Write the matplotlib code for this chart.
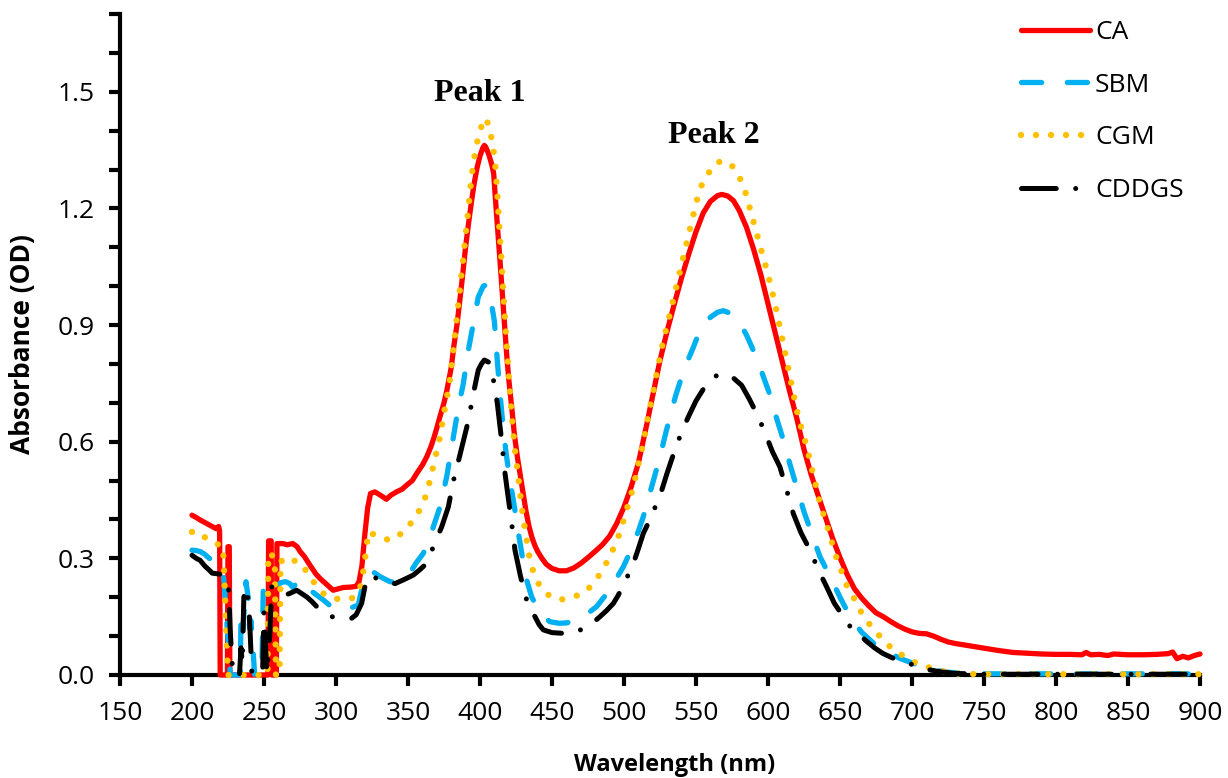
import numpy as np
import matplotlib
matplotlib.use("Agg")
import matplotlib.pyplot as plt
from matplotlib.ticker import MultipleLocator, FormatStrFormatter

# ---------------- data ----------------
CA_WL = [200, 203, 206, 209, 212, 215, 217, 218.5, 219.2, 219.6, 224.6, 225.0, 225.9, 226.3,
         252.8, 253.2, 255.0, 255.4, 258.6, 259.0, 263, 266, 270, 273,
         275, 278, 282, 286, 289, 292, 295, 298, 302, 305, 310, 314, 316, 318, 320, 322, 324, 327,
         331, 335, 338, 342, 346, 349, 353, 356, 360, 363, 366, 368, 370, 372, 375, 377, 380, 382,
         384, 386, 388, 390, 392, 394, 396, 398, 400, 402, 403, 404, 406, 408, 409.5, 411, 412.7,
         414, 416, 418.5, 420, 422, 424, 426, 428, 430, 432, 434, 436, 438, 440, 443, 446, 450, 455,
         460, 465, 470, 475, 480, 485, 490, 495, 500, 505, 510, 515, 520, 525, 530, 535, 540, 545,
         550, 555, 560, 565, 568, 572, 576, 580, 585, 590, 595, 600, 605, 610, 615, 620, 625, 630,
         635, 640, 645, 650, 655, 660, 665, 670, 675, 680, 685, 690, 695, 700, 705, 710, 715, 720,
         725, 730, 740, 750, 760, 770, 780, 790, 800, 810, 818, 821, 824, 830, 836, 840, 850, 860,
         870, 878, 881, 884, 888, 892, 896, 900]
CA_ABS = [0.411, 0.405, 0.398, 0.392, 0.386, 0.380, 0.376, 0.382, 0.370, 0.0, 0.0, 0.330, 0.330, 0.0,
          0.0, 0.345, 0.345, 0.0, 0.0, 0.338, 0.338, 0.335, 0.338, 0.330,
          0.318, 0.305, 0.282, 0.260, 0.248, 0.238, 0.228, 0.218, 0.222, 0.225, 0.226, 0.228, 0.240,
          0.280, 0.360, 0.430, 0.467, 0.471, 0.462, 0.452, 0.462, 0.471, 0.478, 0.488, 0.500, 0.518,
          0.540, 0.561, 0.588, 0.610, 0.635, 0.662, 0.700, 0.732, 0.790, 0.850, 0.900, 0.963, 1.030,
          1.100, 1.160, 1.215, 1.265, 1.305, 1.335, 1.356, 1.362, 1.358, 1.340, 1.315, 1.290, 1.210,
          1.126, 1.060, 0.955, 0.826, 0.760, 0.690, 0.615, 0.560, 0.513, 0.465, 0.420, 0.383, 0.355,
          0.334, 0.318, 0.300, 0.285, 0.274, 0.268, 0.268, 0.275, 0.287, 0.302, 0.318, 0.335, 0.357,
          0.390, 0.432, 0.484, 0.545, 0.630, 0.720, 0.809, 0.885, 0.955, 1.022, 1.083, 1.140, 1.188,
          1.218, 1.233, 1.236, 1.232, 1.220, 1.195, 1.152, 1.095, 1.030, 0.955, 0.880, 0.805, 0.730,
          0.660, 0.580, 0.515, 0.460, 0.405, 0.350, 0.302, 0.258, 0.222, 0.198, 0.178, 0.160, 0.150,
          0.138, 0.127, 0.118, 0.111, 0.107, 0.106, 0.100, 0.092, 0.085, 0.081, 0.075, 0.069, 0.063,
          0.058, 0.056, 0.054, 0.053, 0.053, 0.052, 0.058, 0.052, 0.053, 0.050, 0.054, 0.052, 0.052,
          0.053, 0.055, 0.059, 0.042, 0.048, 0.044, 0.050, 0.054]

SBM_WL = [200, 203, 206, 209, 212, 215, 218, 221, 222, 223, 224.5, 226, 226.5, 233.5, 234, 235,
          236.5, 237.5, 239, 240, 241, 242.5, 243.5, 248.5, 249.5, 251, 253, 256, 259, 262, 265,
          268, 270, 272.7, 275, 276.2, 280, 285, 291.2, 296, 300.5, 305, 310, 315.5, 317.8, 321.3,
          325.9, 330.6, 337.5, 342, 347, 352.6, 356, 360.7, 364, 367.6, 372.2, 376.9, 381.5, 385,
          388.4, 391.9, 394.9, 398.8, 402.3, 404, 406, 408, 410, 412, 414, 416, 418, 420, 422, 424,
          426, 429, 432.4, 435.9, 440.5, 444, 448.6, 455, 460.2, 467.1, 474, 481, 485, 490.3, 495,
          499.5, 503, 506.5, 510, 513.4, 517, 520.4, 525, 528.5, 531.9, 536, 540, 544, 548.2, 551.5,
          555.1, 560, 565, 569, 574, 579.4, 585, 589.8, 594.4, 598, 601.4, 606, 610.7, 615, 619.9,
          625, 630.3, 636, 643.1, 650, 657, 665, 673.2, 684.7, 692, 700.9, 707, 714.8, 725, 735,
          750, 800, 850, 900]
SBM_ABS = [0.321, 0.320, 0.317, 0.310, 0.300, 0.297, 0.290, 0.270, 0.250, 0.200, 0.120, 0.050, 0.0,
           0.0, 0.140, 0.100, 0.180, 0.240, 0.200, 0.120, 0.140, 0.060, 0.0, 0.0, 0.220, 0.235,
           0.225, 0.220, 0.230, 0.238, 0.240, 0.235, 0.225, 0.236, 0.245, 0.240, 0.225, 0.210, 0.193,
           0.178, 0.167, 0.168, 0.172, 0.180, 0.219, 0.257, 0.265, 0.253, 0.240, 0.238, 0.250, 0.270,
           0.290, 0.313, 0.345, 0.381, 0.432, 0.510, 0.612, 0.689, 0.749, 0.835, 0.895, 0.972, 1.000,
           1.003, 0.985, 0.955, 0.910, 0.810, 0.720, 0.640, 0.575, 0.520, 0.475, 0.430, 0.380, 0.313,
           0.244, 0.201, 0.167, 0.150, 0.137, 0.133, 0.134, 0.141, 0.156, 0.176, 0.195, 0.219, 0.250,
           0.278, 0.306, 0.338, 0.370, 0.407, 0.455, 0.501, 0.561, 0.615, 0.664, 0.720, 0.766, 0.806,
           0.843, 0.875, 0.900, 0.920, 0.933, 0.937, 0.930, 0.912, 0.875, 0.835, 0.792, 0.755, 0.720,
           0.660, 0.604, 0.545, 0.484, 0.420, 0.364, 0.305, 0.253, 0.200, 0.150, 0.110, 0.082, 0.056,
           0.042, 0.030, 0.020, 0.013, 0.007, 0.004, 0.003, 0.003, 0.003, 0.003]

CGM_WL = [200, 205, 208, 211, 214, 218, 221, 222, 223, 224, 225, 252.5, 253, 255, 257.5, 258.3, 260.8,
          261.5, 264, 268, 272.7, 277.3, 280, 283, 287.7, 291, 294.7, 298, 302.8, 307, 310.9, 314,
          316.7, 318.5, 320.1, 321.5, 322.5, 326, 330.6, 335, 338.7, 342, 346.8, 350, 353.7, 357,
          359.5, 363, 365.3, 367.6, 369.9, 372.2, 373.8, 375.7, 377.5, 379.2, 380.3, 381.5, 384, 386,
          388, 390, 392, 394.2, 396, 398, 400, 402, 403, 404.5, 406.9, 408.5, 410.4, 412, 413.4, 415,
          416.2, 418.5, 420, 422, 424.3, 426.6, 428.9, 431.3, 433.6, 435.9, 439.4, 442, 445.1, 450,
          454, 459, 463.7, 468, 472.9, 476, 479.9, 483, 485.7, 490.3, 494.5, 497.9, 500.7, 503.7,
          506.5, 508.8, 511.1, 513.4, 516.9, 520, 522.7, 527.3, 531.9, 536.6, 541.2, 545.8, 550.5,
          554, 558.6, 562, 565.5, 570, 574.1, 577, 579.9, 584, 589.4, 593.3, 597, 600, 604.9, 608.5,
          613, 617, 621, 626.9, 631.5, 636.1, 641.9, 647.7, 654.6, 660.4, 665.1, 670.8, 677.8, 684.7,
          692.8, 700.9, 711.3, 720.9, 730.7, 745, 800, 850, 900]
CGM_ABS = [0.368, 0.368, 0.357, 0.348, 0.340, 0.336, 0.334, 0.300, 0.200, 0.100, 0.0, 0.0, 0.313,
           0.310, 0.300, 0.0, 0.0, 0.295, 0.290, 0.300, 0.291, 0.283, 0.260, 0.245, 0.227, 0.210,
           0.201, 0.197, 0.195, 0.196, 0.197, 0.205, 0.223, 0.255, 0.296, 0.340, 0.368, 0.362, 0.355,
           0.349, 0.347, 0.355, 0.368, 0.382, 0.398, 0.418, 0.432, 0.467, 0.501, 0.537, 0.574, 0.612,
           0.648, 0.689, 0.724, 0.762, 0.796, 0.835, 0.920, 0.990, 1.060, 1.130, 1.200, 1.284, 1.330,
           1.370, 1.396, 1.425, 1.432, 1.428, 1.404, 1.370, 1.323, 1.240, 1.152, 1.060, 0.980, 0.852,
           0.770, 0.670, 0.578, 0.510, 0.433, 0.373, 0.317, 0.278, 0.244, 0.226, 0.212, 0.200, 0.194,
           0.195, 0.200, 0.205, 0.214, 0.225, 0.242, 0.258, 0.274, 0.306, 0.340, 0.374, 0.411, 0.448,
           0.484, 0.522, 0.561, 0.595, 0.668, 0.720, 0.775, 0.860, 0.929, 1.002, 1.075, 1.147, 1.220,
           1.260, 1.290, 1.310, 1.319, 1.322, 1.314, 1.300, 1.283, 1.246, 1.173, 1.120, 1.070, 1.030,
           0.955, 0.890, 0.809, 0.735, 0.664, 0.587, 0.514, 0.441, 0.373, 0.300, 0.231, 0.193, 0.159,
           0.129, 0.099, 0.073, 0.052, 0.034, 0.020, 0.010, 0.004, 0.002, 0.002, 0.002, 0.002]

CDDGS_WL = [200, 203, 205.6, 209, 212.5, 214, 218, 221, 224, 225.5, 226.5, 227.5, 228.5, 233, 234,
            235, 236, 237, 238.5, 239.5, 240.5, 241.5, 249, 250, 251, 252, 254, 255.3, 258, 261,
            264.6, 268, 272.7, 276, 279.6, 283, 286.6, 290, 293, 297, 304, 310.9, 314, 317.8, 320.1,
            322, 324.8, 328.2, 334, 341, 347, 353.7, 358, 363, 367.6, 373.4, 378, 380, 382.6, 385,
            387.3, 390, 392, 395.4, 398.8, 401, 403, 405.8, 408, 410, 412, 415, 417.4, 419.7, 422,
            424.3, 428.2, 432.4, 435, 438.2, 441, 444, 450, 458.3, 465, 472.9, 478, 483.3, 488, 492.6,
            496, 499.5, 503, 506.5, 510, 513.4, 517, 520.4, 526.2, 530, 535, 540, 544.7, 550, 557.4,
            563, 569, 575, 581.7, 587, 593.3, 599.1, 603, 608.3, 613, 617.6, 623, 629.2, 635, 640.7,
            646, 652.3, 657, 662.7, 668, 674.3, 680, 687, 694, 700.9, 706, 712.5, 720, 730, 750, 800,
            850, 900]
CDDGS_ABS = [0.308, 0.300, 0.295, 0.280, 0.268, 0.262, 0.260, 0.258, 0.240, 0.218, 0.120, 0.050, 0.0,
             0.0, 0.070, 0.030, 0.200, 0.225, 0.210, 0.175, 0.100, 0.010, 0.0, 0.160, 0.080, 0.005,
             0.100, 0.227, 0.215, 0.210, 0.205, 0.210, 0.218, 0.210, 0.201, 0.190, 0.176, 0.165, 0.157,
             0.150, 0.147, 0.146, 0.155, 0.184, 0.227, 0.248, 0.257, 0.248, 0.240, 0.235, 0.245, 0.257,
             0.270, 0.287, 0.330, 0.381, 0.432, 0.470, 0.518, 0.550, 0.585, 0.625, 0.655, 0.724, 0.784,
             0.800, 0.810, 0.805, 0.785, 0.745, 0.700, 0.604, 0.518, 0.454, 0.390, 0.321, 0.253, 0.193,
             0.168, 0.150, 0.130, 0.116, 0.109, 0.107, 0.110, 0.120, 0.133, 0.150, 0.166, 0.184, 0.205,
             0.231, 0.258, 0.287, 0.325, 0.364, 0.392, 0.420, 0.475, 0.520, 0.575, 0.625, 0.664, 0.705,
             0.749, 0.768, 0.775, 0.767, 0.745, 0.710, 0.664, 0.612, 0.575, 0.535, 0.475, 0.415, 0.365,
             0.321, 0.270, 0.227, 0.185, 0.150, 0.125, 0.107, 0.088, 0.069, 0.055, 0.043, 0.034, 0.026,
             0.019, 0.013, 0.008, 0.004, 0.002, 0.002, 0.002, 0.002]

SERIES = ["CA", "SBM", "CGM", "CDDGS"]
X_TICKS = list(range(150, 901, 50))
Y_TICKS = [0.0, 0.3, 0.6, 0.9, 1.2, 1.5]
PEAK_LABELS = [("Peak 1", 400, 1.495), ("Peak 2", 562.5, 1.387)]

# ---------------- figure ----------------
plt.rcParams["font.family"] = ["Open Sans", "DejaVu Sans"]
plt.rcParams["lines.scale_dashes"] = False

fig = plt.figure(figsize=(12.28, 7.78), dpi=100)
ax = fig.add_axes([0.0977, 0.1324, 0.8795, 0.8496])

styles = {
    "CA": dict(color="#FF0000", linestyle="-", lw=3.8),
    "SBM": dict(color="#00B0F0", linestyle=(0, (14.5, 18.5)), lw=3.8),
    "CGM": dict(color="#FFC000", linestyle=(0, (0.01, 10.8)), lw=4.6),
    "CDDGS": dict(color="#000000", linestyle=(0, (25, 14, 0.01, 14)), lw=3.6),
}
data = {"CA": (CA_WL, CA_ABS), "SBM": (SBM_WL, SBM_ABS),
        "CGM": (CGM_WL, CGM_ABS), "CDDGS": (CDDGS_WL, CDDGS_ABS)}

for name in SERIES:
    wl, ab = data[name]
    ax.plot(wl, ab, solid_capstyle="round", dash_capstyle="round",
            solid_joinstyle="round", label=name, zorder=3, clip_on=False, **styles[name])

ax.set_xlim(150, 900)
ax.set_ylim(0, 1.7)
ax.set_xticks(X_TICKS)
ax.set_yticks(Y_TICKS)
ax.yaxis.set_minor_locator(MultipleLocator(0.1))
ax.yaxis.set_major_formatter(FormatStrFormatter("%.1f"))

for s in ["top", "right"]:
    ax.spines[s].set_visible(False)
for s in ["left", "bottom"]:
    ax.spines[s].set_linewidth(3)
    ax.spines[s].set_zorder(2)

ax.tick_params(axis="both", which="both", direction="out", length=8, width=3, labelsize=19,
               color="black")
ax.tick_params(axis="y", which="major", pad=10)
ax.tick_params(axis="x", which="major", pad=11)

ax.set_xlabel("Wavelength (nm)", fontsize=17, fontweight="bold")
ax.set_ylabel("Absorbance (OD)", fontsize=19, fontweight="bold")
ax.xaxis.set_label_coords(0.514, -0.118)
ax.yaxis.set_label_coords(-0.078, 0.5)

for txt, x, y in PEAK_LABELS:
    ax.text(x, y, txt, ha="center", va="center", fontsize=23, fontweight="bold",
            family=["Liberation Serif", "DejaVu Serif"])

leg = ax.legend(loc="upper left", bbox_to_anchor=(1021 / 1228, 1 - 20 / 778),
                bbox_transform=fig.transFigure, frameon=False, fontsize=19,
                handlelength=2.6, handletextpad=0.2, labelspacing=1.05,
                borderpad=0, borderaxespad=0)

fig.savefig("out.png", dpi=100)
